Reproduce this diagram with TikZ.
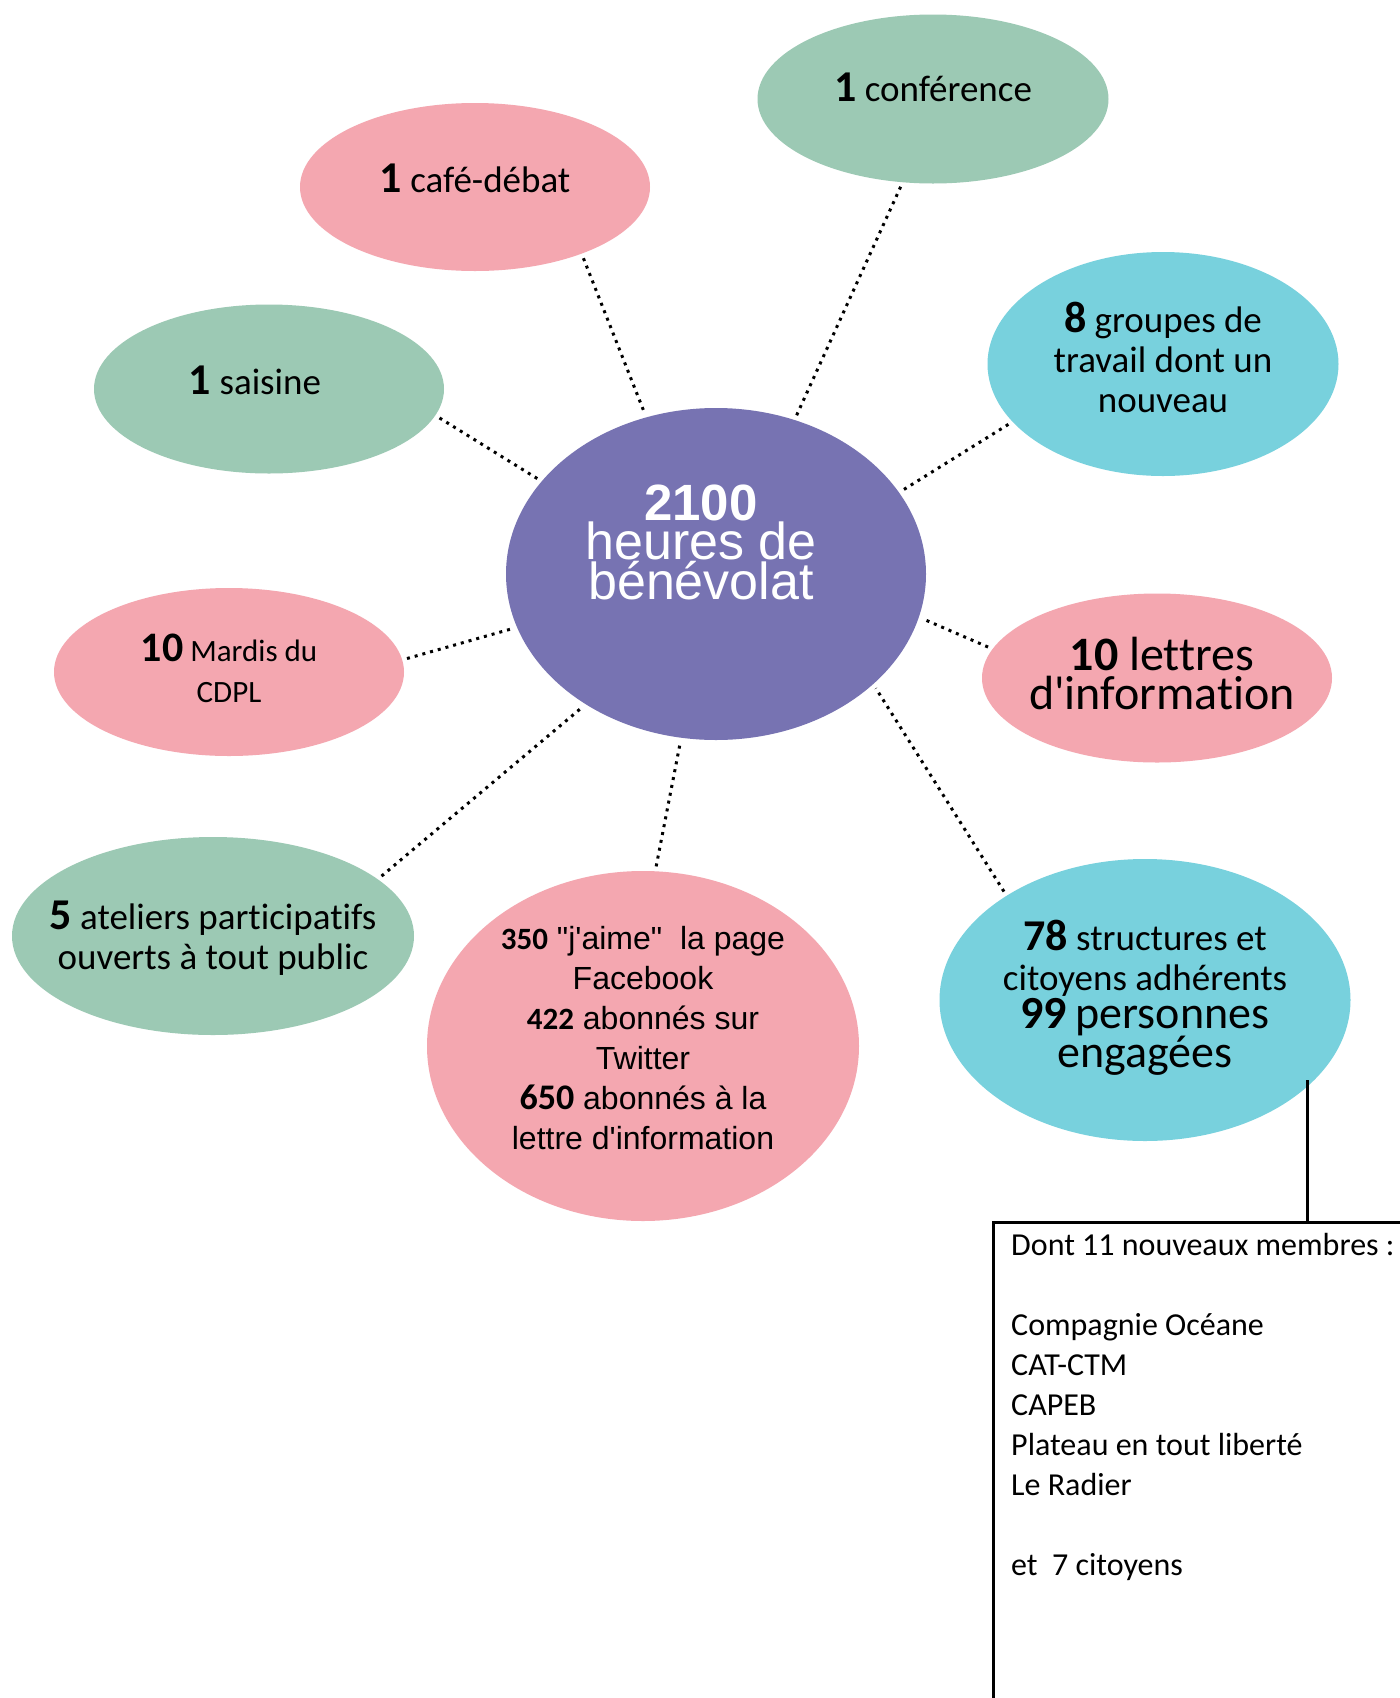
\documentclass[tikz,border=0pt]{standalone}
\usepackage{fontspec}
\setmainfont{Carlito}[Ligatures={NoCommon}]
\newfontfamily\arialfont{Liberation Sans}
\usetikzlibrary{shapes.geometric, positioning}

\definecolor{bubblepink}{HTML}{F4A7B0}
\definecolor{bubblegreen}{HTML}{9CC9B4}
\definecolor{bubblecyan}{HTML}{78D1DD}
\definecolor{hubpurple}{HTML}{7773B2}

\newcommand{\bignum}[1]{{\fontsize{44}{40}\selectfont\bfseries #1}}
\newcommand{\smallnum}[1]{{\normalfont\fontsize{31}{40}\selectfont\bfseries #1}}

\begin{document}
\begin{tikzpicture}[x=1pt, y=-1pt]
    % Define the styles
    \tikzset{
        bubble/.style = {ellipse, inner sep=0pt, outer sep=0pt},
        bubbletext/.style = {inner sep=0pt, align=center, font=\fontsize{37}{40}\selectfont},
        dotline/.style = {draw, line width=3pt, dash pattern=on 3pt off 5pt, shorten <=5pt, shorten >=5pt},
        joint/.style = {draw, line width=2.7pt},
    }
    \path [use as bounding box, fill=white] (0,0) rectangle (1400,1698);

    % Central node
    \node [bubble, fill=hubpurple, minimum width=420, minimum height=332] (hub) at (716,574) {};
    \node [bubbletext, font=\arialfont\fontsize{52}{38}\selectfont, text=white] (hubtext) at ([xshift=-15pt, yshift=32pt]hub.center) {{\fontsize{51}{38}\selectfont\bfseries 2100}\\heures de\\bénévolat};

    % Nodes placement
    \node [bubble, fill=bubblepink, minimum width=350, minimum height=168] (cafe) at (475,187) {};
    \node [bubbletext] (cafetext) at ([yshift=9pt]cafe.center) {\bignum{1} café-débat};

    \node [bubble, fill=bubblegreen, minimum width=351, minimum height=169] (conference) at (933,99) {};
    \node [bubbletext] (conferencetext) at ([yshift=12pt]conference.center) {\bignum{1} conférence};

    \node [bubble, fill=bubblegreen, minimum width=350, minimum height=169] (saisine) at (269,389) {};
    \node [bubbletext] (saisinetext) at ([xshift=-14pt, yshift=9pt]saisine.center) {\bignum{1} saisine};

    \node [bubble, fill=bubblecyan, minimum width=351, minimum height=224] (groups) at (1163,364) {};
    \node [bubbletext] (groupstext) at ([yshift=7pt]groups.center) {\bignum{8} groupes de\\travail dont un\\nouveau};

    \node [bubble, fill=bubblepink, minimum width=350, minimum height=168] (mardis) at (229,672) {};
    \node [bubbletext, font=\fontsize{31}{41}\selectfont] (mardistext) at ([yshift=4pt]mardis.center) {{\fontsize{42}{41}\selectfont\bfseries 10} Mardis du\\CDPL};

    \node [bubble, fill=bubblepink, minimum width=350, minimum height=169] (letters) at (1157,678) {};
    \node [bubbletext, font=\fontsize{48}{39}\selectfont] (letterstext) at ([xshift=5pt, yshift=5pt]letters.center) {\textbf{10} lettres\\d\textquotesingle information};

    \node [bubble, fill=bubblegreen, minimum width=402, minimum height=198] (workshops) at (213,936) {};
    \node [bubbletext] (workshopstext) at ([yshift=-2pt]workshops.center) {\bignum{5} ateliers participatifs\\ouverts à tout public};

    \node [bubble, fill=bubblepink, minimum width=432, minimum height=350] (social) at (643,1046) {};
    \node [bubbletext, font=\arialfont\fontsize{32}{40}\selectfont] (socialtext) at ([yshift=8pt]social.center) {\smallnum{350} "j\textquotesingle aime"\ \ la page\\Facebook\\\smallnum{422} abonnés sur\\Twitter\\{\normalfont\fontsize{36}{40}\selectfont\bfseries 650} abonnés à la\\lettre d\textquotesingle information};

    \node [bubble, fill=bubblecyan, minimum width=411, minimum height=282] (structures) at (1145,1000) {};
    \node [bubbletext] (structurestext) at ([yshift=2pt]structures.center) {\bignum{78} structures et\\citoyens adhérents\\[-2pt]{\fontsize{46}{38}\selectfont\bfseries 99} {\fontsize{46}{38}\selectfont personnes}\\[-1pt]{\fontsize{46}{38}\selectfont engagées}};

    % New members box
    \node [draw, line width=2.7pt, minimum width=440, minimum height=540, anchor=north west, inner sep=0pt] (members) at (992,1221) {};
    \node [anchor=north west, align=left, inner sep=0pt, font=\fontsize{32}{40}\selectfont] (memberlist) at ([xshift=19pt, yshift=-12pt]members.north west) {Dont 11 nouveaux membres :\\[40pt]Compagnie Océane\\CAT-CTM\\CAPEB\\Plateau en tout liberté\\Le Radier\\[40pt]et\ \ 7 citoyens};

    % Connecting lines
    \draw [dotline] (cafe.-32) -- (hub.114);
    \draw [dotline] (conference.-110) -- (hub.63);
    \draw [dotline] (saisine.-9) -- (hub.152);
    \draw [dotline] (groups.201) -- (hub.24.5);
    \draw [dotline] (mardis.4.6) -- (hub.195.4);
    \draw [dotline] (letters.170.5) -- (hub.-12.5);
    \draw [dotline] (workshops.19) -- (hub.-135.4);
    \draw [dotline] (social.86.8) -- (hub.-102);
    \draw [dotline] (structures.143.6) -- (hub.-35.3);
    \draw [joint] ([yshift=6pt]structures.-28) -- (structures.-28 |- members.north);

\end{tikzpicture}
\end{document}
